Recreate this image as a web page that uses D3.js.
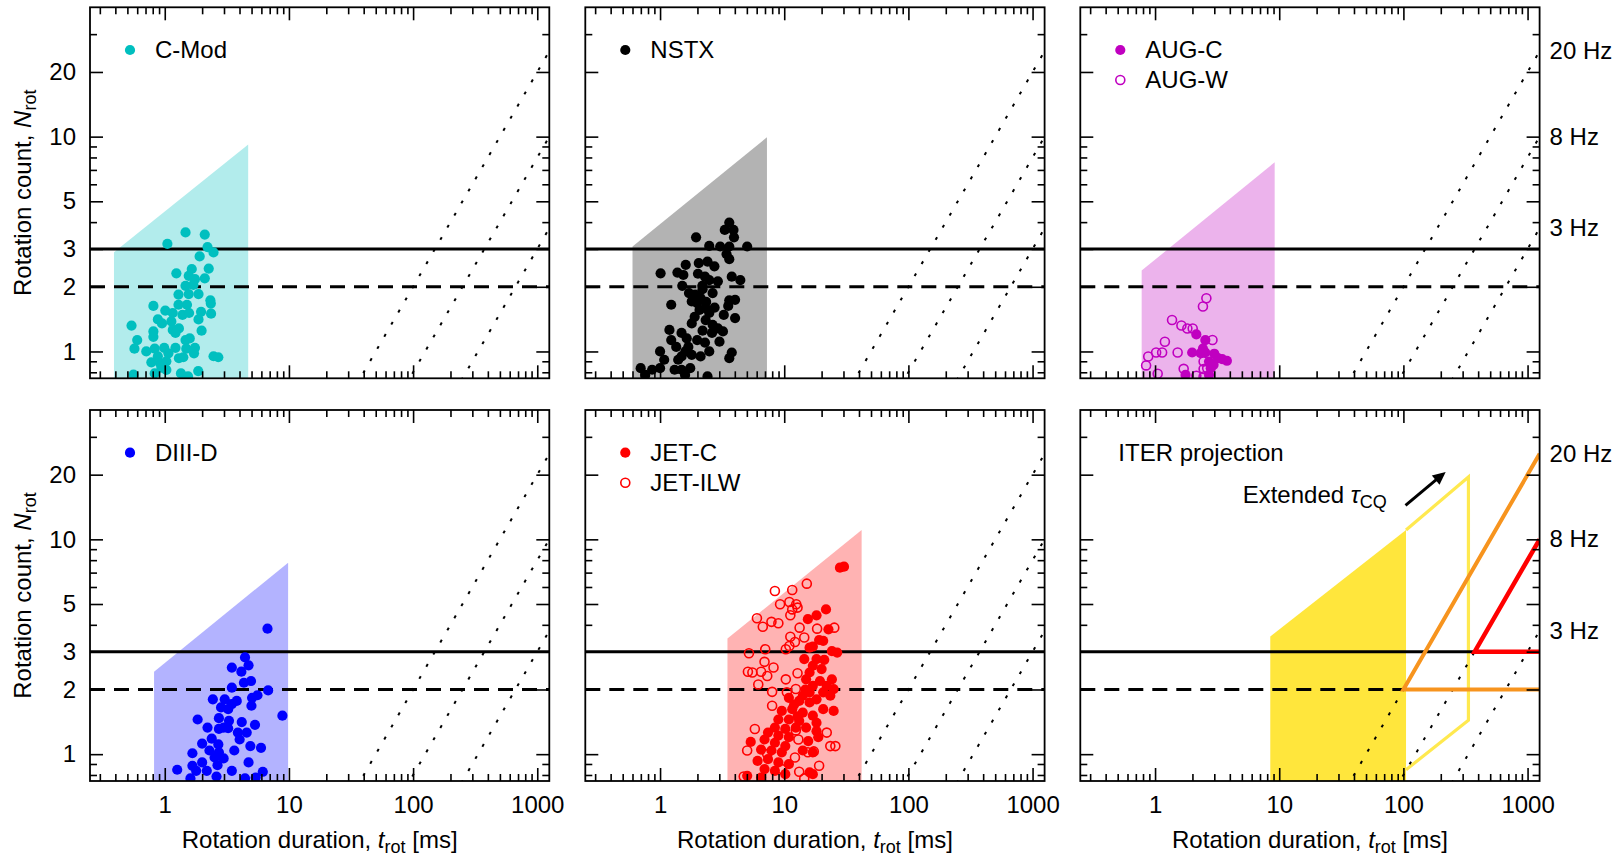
<!DOCTYPE html>
<html><head><meta charset="utf-8">
<script src="https://cdn.jsdelivr.net/npm/d3@7"></script>
<style>body{margin:0;background:#fff}</style>
</head><body>
<svg id="c" width="1623" height="856" xmlns="http://www.w3.org/2000/svg"></svg>
<script>
// ---------------- data ----------------
const xDomain = [0.25, 1250];           // rotation duration t_rot [ms]
const yDomain = [0.75, 40];             // rotation count N_rot
const xMajor = [1, 10, 100, 1000];
const xMinor = [0.3,0.4,0.5,0.6,0.7,0.8,0.9, 2,3,4,5,6,7,8,9, 20,30,40,50,60,70,80,90, 200,300,400,500,600,700,800,900];
const yMajor = [1, 2, 3, 5, 10, 20];
const yMinor = [0.8, 0.9, 4, 6, 7, 8, 9, 30];
const freqs = [20, 8, 3];                       // Hz, N = f * t
const freqLabels = ["20 Hz", "8 Hz", "3 Hz"];
const nSolid = 3, nDashed = 2;

// shaded regions: [[t_min, N at t_min],[t_max, N at t_max]]
const cmodRegion = [[0.39, 2.9], [4.7, 9.2]];
const nstxRegion = [[0.60, 3.08], [7.26, 9.93]];
const augRegion  = [[0.78, 2.38], [9.19, 7.60]];
const diiidRegion= [[0.82, 2.42], [9.85, 7.79]];
const jetRegion  = [[3.49, 3.45], [42.0, 11.05]];
const iterRegion = [[8.47, 3.53], [105, 11.05]];
const iterExtended = [[105, 11.05], [334, 19.5], [334, 1.44], [105, 0.846]];
const iter20Hz = [[1250, 2], [100, 2], [1250, 25]];
const iter8Hz  = [[1250, 3], [375, 3], [1250, 10]];
const iterArrow = [[104, 14.4], [219, 20.6]];

const cmod = [[1.05,3.17],[1.47,3.58],[2.10,3.50],[2.21,3.06],[2.47,2.89],[1.91,2.77],[2.26,2.43],[1.65,2.42],[1.24,2.31],[1.56,2.25],[1.75,2.17],[2.10,2.19],[1.47,2.02],[1.70,2.04],[1.29,1.84],[1.56,1.85],[1.87,1.85],[2.33,1.73],[2.35,1.67],[0.81,1.63],[1.29,1.65],[1.51,1.65],[1.96,1.53],[2.36,1.50],[1.01,1.55],[1.16,1.51],[1.39,1.48],[1.57,1.51],[0.88,1.41],[0.95,1.35],[1.13,1.38],[1.87,1.41],[0.54,1.32],[0.81,1.24],[1.16,1.26],[1.30,1.28],[1.22,1.22],[1.98,1.25],[0.60,1.13],[0.81,1.17],[1.47,1.13],[1.59,1.15],[0.57,1.03],[0.71,1.00],[0.83,1.03],[0.99,1.04],[1.22,1.04],[1.49,1.03],[1.75,1.04],[0.88,0.95],[1.07,0.98],[1.30,0.93],[1.41,0.94],[1.72,0.98],[0.78,0.89],[0.92,0.88],[1.03,0.90],[2.47,0.95],[2.70,0.94],[0.56,0.78],[1.03,0.82],[1.35,0.79],[1.86,0.81],[1.54,0.765],[0.83,0.79],[0.94,0.84]];

const nstx = [[3.61,3.98],[3.32,3.68],[3.90,3.68],[3.94,3.40],[1.95,3.40],[2.49,3.10],[3.05,3.08],[3.61,3.08],[5.03,3.08],[3.43,2.84],[3.61,2.69],[2.41,2.62],[2.74,2.49],[1.61,2.53],[2.05,2.58],[1.01,2.31],[1.38,2.33],[1.54,2.27],[2.02,2.30],[2.30,2.23],[2.49,2.15],[2.92,2.12],[3.78,2.23],[4.43,2.15],[1.51,2.02],[2.19,2.02],[1.71,1.87],[1.92,1.84],[2.65,1.87],[2.12,1.77],[1.80,1.71],[1.99,1.68],[3.61,1.73],[4.02,1.74],[1.23,1.65],[2.33,1.59],[2.08,1.56],[2.49,1.51],[3.54,1.63],[3.26,1.48],[4.02,1.43],[2.33,1.40],[2.65,1.33],[1.80,1.35],[2.92,1.28],[2.62,1.22],[3.21,1.24],[1.19,1.26],[1.49,1.22],[1.23,1.13],[1.64,1.15],[1.99,1.13],[3.01,1.11],[1.35,1.05],[1.69,1.05],[1.00,1.00],[1.49,0.948],[1.80,0.965],[2.12,0.948],[2.49,1.00],[3.78,0.989],[3.61,0.931],[1.08,0.915],[1.40,0.915],[0.698,0.836],[0.863,0.822],[1.00,0.836],[0.759,0.778],[1.31,0.822],[1.49,0.822],[1.75,0.836],[1.59,0.778],[2.41,0.765],[2.20,1.95],[2.35,1.70],[2.75,1.60],[1.90,1.45],[2.20,1.25],[1.60,1.00],[2.30,1.10]];

const augC = [[2.15,1.20],[2.54,1.13],[1.99,0.989],[2.43,1.03],[2.33,0.982],[2.54,0.989],[3.00,0.976],[3.21,0.931],[3.47,0.921],[3.79,0.905],[2.72,0.898],[2.96,0.867],[2.81,0.836],[1.76,0.778],[2.72,0.778]];
const augW = [[2.59,1.77],[2.43,1.62],[1.37,1.40],[1.63,1.32],[1.82,1.28],[2.01,1.28],[2.90,1.13],[1.20,1.11],[1.02,0.989],[1.14,0.989],[1.52,0.989],[0.881,0.948],[0.847,0.861],[2.46,0.898],[1.70,0.830],[2.46,0.828],[2.63,0.836],[1.05,0.787],[2.15,0.771],[2.46,0.765]];

const diiid = [[6.72,3.84],[4.43,2.82],[4.73,2.59],[3.47,2.53],[4.14,2.42],[4.95,2.19],[4.34,2.15],[3.47,2.04],[6.80,1.98],[5.58,1.88],[5.05,1.83],[2.44,1.80],[3.04,1.80],[3.80,1.77],[3.47,1.71],[4.99,1.68],[2.84,1.65],[3.24,1.62],[8.86,1.51],[1.84,1.45],[2.73,1.47],[3.29,1.43],[4.17,1.41],[2.98,1.33],[2.21,1.33],[2.73,1.31],[3.24,1.32],[3.88,1.26],[4.57,1.26],[5.33,1.37],[2.39,1.18],[2.00,1.12],[2.70,1.11],[4.01,1.17],[4.89,1.09],[5.96,1.07],[1.67,1.01],[2.29,1.04],[2.73,1.02],[3.63,1.04],[2.52,0.965],[2.98,0.955],[1.67,0.883],[2.00,0.915],[2.66,0.889],[4.73,0.915],[1.26,0.846],[1.79,0.836],[2.18,0.836],[3.47,0.836],[6.16,0.828],[1.61,0.771],[2.61,0.787],[4.43,0.771],[5.40,0.778]];

const jetC = [[28.1,7.38],[30.3,7.46],[21.7,4.72],[18.2,4.43],[15.5,4.25],[22.7,3.81],[19.1,3.40],[17.0,3.17],[20.6,3.37],[16.0,3.13],[24.2,3.02],[26.7,2.97],[14.5,2.77],[18.2,2.77],[17.0,2.58],[16.0,2.40],[20.0,2.49],[15.0,2.23],[19.4,2.19],[24.2,2.23],[17.0,2.08],[22.0,2.08],[25.0,2.01],[16.0,1.94],[20.6,1.94],[23.5,1.87],[14.1,1.87],[18.2,1.80],[10.9,1.83],[13.2,1.77],[16.0,1.74],[20.6,1.62],[25.0,1.59],[9.56,1.59],[11.6,1.62],[14.1,1.56],[17.0,1.51],[8.97,1.45],[10.9,1.45],[13.2,1.43],[18.2,1.40],[8.41,1.33],[10.2,1.31],[12.4,1.33],[15.0,1.33],[18.2,1.28],[7.40,1.26],[8.97,1.22],[10.9,1.20],[6.94,1.17],[5.37,1.14],[8.41,1.13],[10.2,1.09],[18.8,1.20],[6.51,1.05],[7.89,1.04],[9.56,1.02],[14.1,1.04],[17.0,1.02],[6.10,0.931],[7.40,0.948],[8.97,0.915],[10.9,0.898],[6.94,0.852],[8.41,0.836],[10.2,0.807],[17.0,0.807],[5.03,0.793],[6.51,0.778],[16.0,0.822],[12.0,1.70],[14.8,2.00],[21.0,2.75],[12.8,1.50],[15.6,1.15]];
const jetILW = [[8.41,5.75],[11.6,5.81],[15.2,6.22],[9.26,4.99],[11.0,5.11],[12.5,4.99],[11.6,4.72],[12.8,4.81],[6.03,4.29],[6.72,3.92],[7.89,4.13],[8.97,4.07],[11.2,4.43],[13.3,3.88],[11.2,3.52],[12.2,3.33],[14.5,3.49],[18.4,3.84],[25.3,3.88],[5.20,2.95],[7.03,3.08],[10.3,3.08],[11.0,3.19],[6.94,2.69],[8.20,2.53],[5.10,2.42],[5.54,2.40],[6.51,2.42],[7.30,2.31],[6.18,2.11],[10.3,2.23],[12.8,2.38],[12.4,2.01],[10.5,1.94],[7.99,1.95],[7.99,1.68],[5.80,1.31],[12.4,1.29],[22.0,1.26],[13.0,1.17],[5.03,1.04],[7.30,1.00],[12.2,0.965],[15.5,1.02],[17.3,1.03],[19.1,0.883],[23.5,1.09],[25.8,1.09],[13.2,0.828],[4.72,0.787],[14.5,0.771],[9.56,0.852]];

// ---------------- layout ----------------
const W = 459.3, H = 371;
const colX = [90, 585.3, 1080.3], rowY = [7.3, 410];
const FONT = '"Liberation Sans", Arial, Helvetica, sans-serif';
const FS = 24, SUB = 18;

const x = d3.scaleLog().domain(xDomain).range([0, W]);
const y = d3.scaleLog().domain(yDomain).range([H, 0]);
const line = d3.line().x(d => x(d[0])).y(d => y(d[1]));

const panels = [
  {col:0,row:0, region:cmodRegion, shade:'#b2ecec', series:[{data:cmod,color:'#00bfbf',filled:true,label:'C-Mod'}]},
  {col:1,row:0, region:nstxRegion, shade:'#b3b3b3', series:[{data:nstx,color:'#000000',filled:true,label:'NSTX'}]},
  {col:2,row:0, region:augRegion, shade:'#ecb3ec', series:[{data:augC,color:'#c000c0',filled:true,label:'AUG-C'},{data:augW,color:'#c000c0',filled:false,label:'AUG-W'}]},
  {col:0,row:1, region:diiidRegion, shade:'#b3b3ff', series:[{data:diiid,color:'#0000ff',filled:true,label:'DIII-D'}]},
  {col:1,row:1, region:jetRegion, shade:'#ffb3b3', series:[{data:jetILW,color:'#ff0000',filled:false,label:'JET-ILW'},{data:jetC,color:'#ff0000',filled:true,label:'JET-C'}], legendOrder:[1,0]},
  {col:2,row:1, region:iterRegion, shade:'#ffe63c', series:[], iter:true}
];

const svg = d3.select('#c');
svg.append('rect').attr('width',1623).attr('height',856).attr('fill','#fff');

panels.forEach((p, i) => {
  const g = svg.append('g').attr('transform', `translate(${colX[p.col]},${rowY[p.row]})`);
  const cid = 'clip' + i;
  g.append('clipPath').attr('id', cid).append('rect').attr('width', W).attr('height', H);
  const pg = g.append('g').attr('clip-path', `url(#${cid})`);

  // shaded region
  const [[t0, n0], [t1, n1]] = p.region;
  pg.append('path')
    .attr('d', line([[t0, yDomain[0]], [t0, n0], [t1, n1], [t1, yDomain[0]]]) + 'Z')
    .attr('fill', p.shade);

  if (p.iter) {
    pg.append('path').attr('d', line(iterExtended)).attr('fill', 'none')
      .attr('stroke', '#ffe94f').attr('stroke-width', 3.2).attr('stroke-linejoin', 'miter');
  }

  // constant-frequency dotted lines
  freqs.forEach(f => {
    pg.append('path').attr('d', line([[xDomain[0], f * xDomain[0] / 1000], [xDomain[1], f * xDomain[1] / 1000]]))
      .attr('fill', 'none').attr('stroke', '#000').attr('stroke-width', 2)
      .attr('stroke-dasharray', '3,11');
  });

  // horizontal reference lines
  const solidEnd = p.iter ? iter8Hz[1][0] : xDomain[1];
  const dashEnd = p.iter ? iter20Hz[1][0] : xDomain[1];
  pg.append('path').attr('d', line([[xDomain[0], nSolid], [solidEnd, nSolid]]))
    .attr('stroke', '#000').attr('stroke-width', 3).attr('fill', 'none');
  pg.append('path').attr('d', line([[xDomain[0], nDashed], [dashEnd, nDashed]]))
    .attr('stroke', '#000').attr('stroke-width', 3).attr('fill', 'none')
    .attr('stroke-dasharray', '15,9');

  if (p.iter) {
    pg.append('path').attr('d', line(iter20Hz)).attr('fill', 'none')
      .attr('stroke', '#f7941e').attr('stroke-width', 4).attr('stroke-linejoin', 'miter');
    pg.append('path').attr('d', line(iter8Hz)).attr('fill', 'none')
      .attr('stroke', '#ff0000').attr('stroke-width', 4.5).attr('stroke-linejoin', 'miter');
    // arrow
    const [s, e] = iterArrow;
    const sx = x(s[0]), sy = y(s[1]), ex = x(e[0]), ey = y(e[1]);
    const L = Math.hypot(ex - sx, ey - sy), ux = (ex - sx) / L, uy = (ey - sy) / L;
    const hl = 13, hw = 6;
    const bx = ex - ux * hl, by = ey - uy * hl;
    g.append('line').attr('x1', sx).attr('y1', sy).attr('x2', bx + ux * 2).attr('y2', by + uy * 2)
      .attr('stroke', '#000').attr('stroke-width', 3);
    g.append('path').attr('d', `M${ex},${ey}L${bx - uy * hw},${by + ux * hw}L${bx + uy * hw},${by - ux * hw}Z`)
      .attr('fill', '#000');
    const t = g.append('text').attr('x', 162.4).attr('y', 92.7)
      .attr('font-family', FONT).attr('font-size', FS).attr('fill', '#000');
    t.append('tspan').text('Extended ');
    t.append('tspan').attr('font-style', 'italic').text('τ');
    t.append('tspan').attr('font-size', SUB).attr('dy', 5).text('CQ');
    g.append('text').attr('x', 38).attr('y', 42.7 + 8.5).attr('font-family', FONT)
      .attr('font-size', FS).text('ITER projection');
  }

  // data points
  p.series.forEach(s => {
    pg.append('g').selectAll('circle').data(s.data).join('circle')
      .attr('cx', d => x(d[0])).attr('cy', d => y(d[1]))
      .attr('r', s.filled ? 5.1 : 4.5)
      .attr('fill', s.filled ? s.color : 'none')
      .attr('stroke', s.filled ? 'none' : s.color)
      .attr('stroke-width', 1.6);
  });

  // legend
  const order = p.legendOrder ? p.legendOrder.map(k => p.series[k]) : p.series;
  order.forEach((s, k) => {
    const cy = 42.7 + k * 30;
    g.append('circle').attr('cx', 40).attr('cy', cy).attr('r', s.filled ? 5.1 : 4.5)
      .attr('fill', s.filled ? s.color : 'none').attr('stroke', s.filled ? 'none' : s.color)
      .attr('stroke-width', 1.6);
    g.append('text').attr('x', 65).attr('y', cy + 8.5).attr('font-family', FONT)
      .attr('font-size', FS).text(s.label);
  });

  // axes (ticks inward on all four sides)
  const fmt = d3.format('d');
  const none = () => '';
  const styleAxis = sel => {
    sel.select('.domain').remove();
    sel.selectAll('line').attr('stroke', '#000').attr('stroke-width', 1.6);
    sel.selectAll('text').attr('font-family', FONT).attr('font-size', FS).attr('fill', '#000');
    sel.attr('font-family', FONT).attr('font-size', FS);
  };
  g.append('g').attr('transform', `translate(0,${H})`)
    .call(d3.axisBottom(x).tickValues(xMajor).tickSizeInner(-13).tickSizeOuter(0).tickPadding(15)
      .tickFormat(p.row === 1 ? fmt : none)).call(styleAxis);
  g.append('g').attr('transform', `translate(0,${H})`)
    .call(d3.axisBottom(x).tickValues(xMinor).tickSizeInner(-7).tickSizeOuter(0).tickFormat(none)).call(styleAxis);
  g.append('g').call(d3.axisTop(x).tickValues(xMajor).tickSizeInner(-13).tickSizeOuter(0).tickFormat(none)).call(styleAxis);
  g.append('g').call(d3.axisTop(x).tickValues(xMinor).tickSizeInner(-7).tickSizeOuter(0).tickFormat(none)).call(styleAxis);
  g.append('g').call(d3.axisLeft(y).tickValues(yMajor).tickSizeInner(-13).tickSizeOuter(0).tickPadding(14)
      .tickFormat(p.col === 0 ? fmt : none)).call(styleAxis);
  g.append('g').call(d3.axisLeft(y).tickValues(yMinor).tickSizeInner(-7).tickSizeOuter(0).tickFormat(none)).call(styleAxis);
  g.append('g').attr('transform', `translate(${W},0)`)
    .call(d3.axisRight(y).tickValues(yMajor).tickSizeInner(-13).tickSizeOuter(0).tickFormat(none)).call(styleAxis);
  g.append('g').attr('transform', `translate(${W},0)`)
    .call(d3.axisRight(y).tickValues(yMinor).tickSizeInner(-7).tickSizeOuter(0).tickFormat(none)).call(styleAxis);

  // frame
  g.append('rect').attr('width', W).attr('height', H).attr('fill', 'none')
    .attr('stroke', '#000').attr('stroke-width', 1.8);

  // frequency labels on the right column
  if (p.col === 2) {
    freqs.forEach((f, k) => {
      g.append('text').attr('x', W + 10).attr('y', y(f * xDomain[1] / 1000)).attr('dy', '0.33em')
        .attr('font-family', FONT).attr('font-size', FS).text(freqLabels[k]);
    });
  }

  // axis titles
  if (p.col === 0) {
    const t = svg.append('text').attr('transform', `translate(31,${rowY[p.row] + H / 2}) rotate(-90)`)
      .attr('text-anchor', 'middle').attr('font-family', FONT).attr('font-size', FS);
    t.append('tspan').text('Rotation count, ');
    t.append('tspan').attr('font-style', 'italic').text('N');
    t.append('tspan').attr('font-size', SUB).attr('dy', 5).text('rot');
  }
  if (p.row === 1) {
    const t = svg.append('text').attr('x', colX[p.col] + W / 2).attr('y', 848)
      .attr('text-anchor', 'middle').attr('font-family', FONT).attr('font-size', FS);
    t.append('tspan').text('Rotation duration, ');
    t.append('tspan').attr('font-style', 'italic').text('t');
    t.append('tspan').attr('font-size', SUB).attr('dy', 5).text('rot');
    t.append('tspan').attr('dy', -5).text(' [ms]');
  }
});
</script>
</body></html>
